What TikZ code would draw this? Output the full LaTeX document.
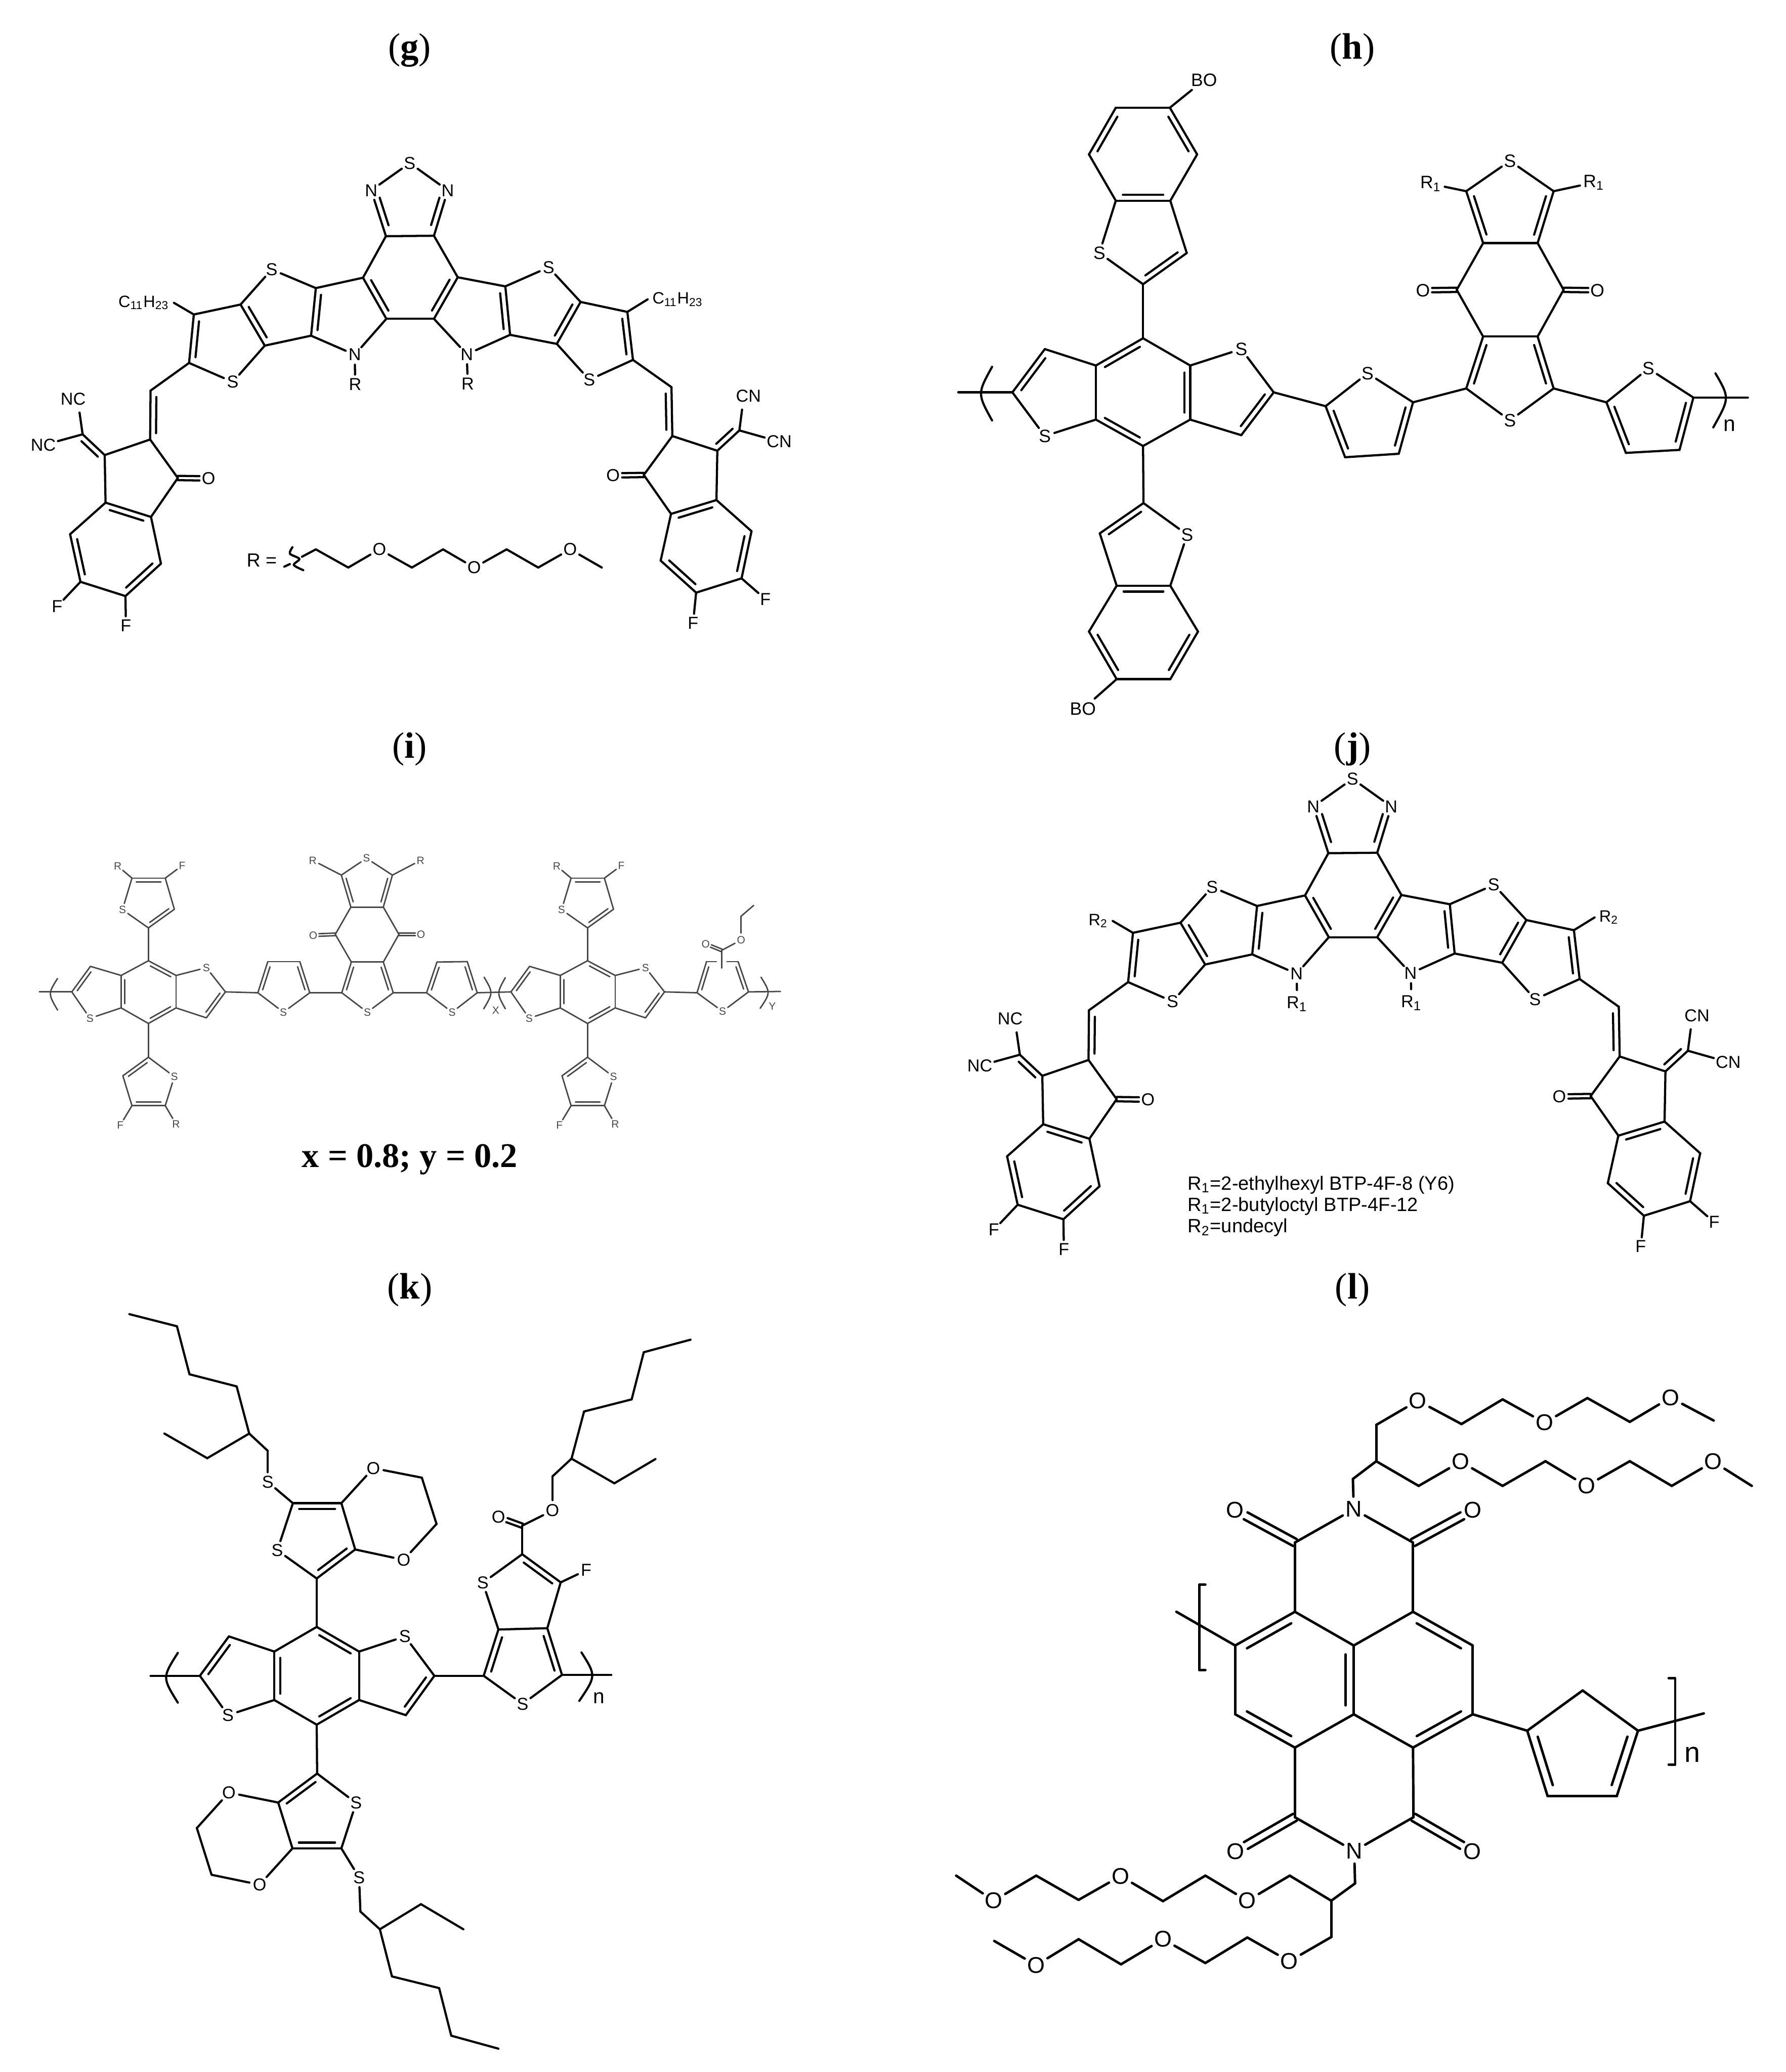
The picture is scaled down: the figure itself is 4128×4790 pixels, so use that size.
\documentclass[tikz,border=0pt]{standalone}
\usepackage{fontspec}
\setmainfont{Liberation Sans}
\newfontfamily\titlefont{Liberation Serif}
\usetikzlibrary{calc}
\tikzset{
  bond/.style={line width=1pt,line cap=round,line join=round},
  atom/.style={circle,inner sep=.3pt,font=\fontsize{8}{9}\selectfont},
  sidegroup/.style={rectangle,inner sep=2pt,font=\fontsize{7.6}{9}\selectfont},
  paneltitle/.style={font=\titlefont\fontsize{17}{20}\selectfont},
  legend/.style={anchor=west,inner sep=0pt,font=\fontsize{8.9}{10}\selectfont}
}
\newcommand{\dgap}{2.7pt}
\newcommand{\cgap}{1pt}
\newcommand{\ogap}{4.2pt}
\newcommand{\dbond}[3][.13]{\draw[bond] (#2)--(#3);
  \draw[bond] ($(#2)!#1!(#3)!\dgap!90:(#3)$)--($(#3)!#1!(#2)!\dgap!-90:(#2)$);}
\newcommand{\cbond}[2]{\draw[bond,shorten >=\ogap] ($(#1)!\cgap!90:(#2)$)--($(#2)!\cgap!-90:(#1)$);
  \draw[bond,shorten >=\ogap] ($(#1)!\cgap!-90:(#2)$)--($(#2)!\cgap!90:(#1)$);}
\newcommand{\verts}[2]{\foreach \n/\x/\y in {#2} \coordinate (#1\n) at (\x,\y);}
\newcommand{\atoms}[2]{\foreach \n/\x/\y/\txt in {#2} \node[atom] (#1\n) at (\x,\y) {\txt};}
\newcommand{\bonds}[2]{\foreach \p/\q in {#2} \draw[bond] (#1\p)--(#1\q);}
\newcommand{\dbonds}[2]{\foreach \p/\q in {#2} \dbond{#1\p}{#1\q};}
\newcommand{\cbonds}[2]{\foreach \p/\q in {#2} \cbond{#1\p}{#1\q};}
\newcommand{\acceptor}[3]{
  \verts{#1}{a/892/546,b/839/642,c/893/737,d/730/666,e/719/776,f/556/704,g/612/799,h/448/727,i/437/839,j/348/903,k/347/1016,l/242/1052,m/191/1004,n/411/1105,o/244/1162,p/349/1195,q/162/1235,r/186/1345,s/290/1378,t/372/1303}
  \verts{#1}{A/1003/545,B/1058/641,C/1003/737,D/1168/662,E/1179/774,F/1342/698,G/1287/795,H/1450/721,I/1463/832,J/1552/895,K/1554/1008,L/1658/1042,M/1709/995,N/1488/1098,O/1656/1156,P/1551/1188,Q/1737/1228,R/1714/1337,S/1609/1370,T/1527/1296}
  \atoms{#1}{z/947/377/S,na/858/440/N,nA/1035/440/N,y/820/820/N,Y/1079/819/N,u/628/623/S,U/1268/618/S,v/538/883/S,V/1362/878/S,nc/169/922/NC,nd/100/1029/NC,ne/1730/915/CN,nf/1801/1021/CN,x/482/1106/O,X/1417/1099/O,fa/132/1402/F,fb/291/1446/F,fA/1769/1385/F,fB/1602/1440/F,w/821/889/#3,W/1081/887/#3}
  \node[sidegroup,anchor=east] (#1al) at (402,700) {#2};
  \node[sidegroup,anchor=west] (#1AL) at (1497,692) {#2};
  \bonds{#1}{z/na,z/nA,a/A,a/b,A/B,c/C,c/y,C/Y,b/d,B/D,e/y,E/Y,y/w,Y/W,d/u,f/u,g/e,D/U,F/U,G/E,f/h,F/H,g/v,i/v,G/V,I/V,i/j,I/J,k/l,K/L,k/n,K/N,l/o,L/O,n/p,N/P,o/q,O/Q,r/s,R/S,t/p,T/P,m/nc.-65,m/nd,M/ne.-115,M/nf,r/fa,s/fb,R/fA,S/fB,h/al.east,H/AL.west}
  \dbond[.2]{#1na}{#1a}
  \dbond[.2]{#1A}{#1nA}
  \dbonds{#1}{b/c,C/B,d/e,E/D,f/g,G/F,h/i,I/H,j/k,K/J,l/m,L/M,p/o,O/P,q/r,R/Q,s/t,T/S}
  \cbonds{#1}{n/x,N/X}
}
\newcommand{\fbdt}[1]{
  \verts{#1}{u1/343/2221,u2/407/2255,u3/407/2330,u4/343/2366,u5/280/2330,u6/280/2255,c1/209/2234,c2/166/2293,d2/521/2293,d3/477/2353,t1/343/2145,t2/403/2102,t3/382/2030,t4/305/2030,b1/343/2444,b2/284/2487,b3/305/2556,b4/382/2556}
  \atoms{#1}{s1/208/2354/S,s2/477/2237/S,s3/283/2103/S,s4/403/2489/S,r1/272/2002/R,f1/421/2001/F,f2/278/2601/F,r2/407/2599/R}
  \bonds{#1}{u1/u6,u5/u4,u3/u2,u6/c1,c2/s1,s1/u5,u2/s2,s2/d2,d3/u3,u1/t1,t1/s3,s3/t4,t2/t3,t4/r1,t3/f1,u4/b1,b1/s4,s4/b4,b2/b3,b3/f2,b4/r2}
  \dbonds{#1}{u2/u1,u6/u5,u4/u3,c1/c2,d3/d2,t1/t2,t3/t4,b1/b2,b3/b4}
}
\begin{document}
\begin{tikzpicture}[x=.2pt,y=-.2pt]
\path[use as bounding box,fill=white] (0,0) rectangle (4128,4790);
\node[paneltitle] (tg) at (947,116) {(\textbf{g})};
\node[paneltitle] (th) at (3126,116) {(\textbf{h})};
\node[paneltitle] (ti) at (947,1732) {(\textbf{i})};
\node[paneltitle] (tj) at (3126,1732) {(\textbf{j})};
\node[paneltitle] (tk) at (947,2982) {(\textbf{k})};
\node[paneltitle] (tl) at (3126,2982) {(\textbf{l})};
\node[paneltitle,font=\titlefont\fontsize{16}{20}\selectfont] (ratio) at (947,2680) {\textbf{x = 0.8; y = 0.2}};

\acceptor{g}{C\textsubscript{11}H\textsubscript{23}}{R}
\verts{g}{c0/698/1287,c1/730/1270,c2/805/1312,c3/952/1312,c4/1024/1270,c5/1171/1270,c6/1244/1312,c7/1391/1312}
\atoms{g}{oa/877/1270/O,ob/1096/1312/O,oc/1318/1270/O}
\node[sidegroup,inner sep=0pt,font=\fontsize{8.8}{10}\selectfont] (gl) at (605,1295) {R =};
\bonds{g}{c0/c1,c1/c2,c2/oa,oa/c3,c3/c4,c4/ob,ob/c5,c5/c6,c6/oc,oc/c7}
\draw[bond] plot[smooth] coordinates {(676,1265) (670,1280) (692,1292) (679,1306) (701,1318)};
\draw[bond] (657,1310)--(670,1304);

\begin{scope}[shift={(2163,1417)},scale=1.017]
\acceptor{j}{R\textsubscript{2}}{R\textsubscript{1}}
\end{scope}
\node[legend] (j1) at (2744,2740) {R\textsubscript{1}=2-ethylhexyl BTP-4F-8 (Y6)};
\node[legend] (j2) at (2744,2789) {R\textsubscript{1}=2-butyloctyl BTP-4F-12};
\node[legend] (j3) at (2744,2838) {R\textsubscript{2}=undecyl};

\begin{scope}[atom/.append style={font=\fontsize{8.3}{9}\selectfont}]
\verts{h}{a1/2704/249,a2/2579/249,a3/2517/357,a4/2579/464,a5/2705/464,a6/2767/357,a7/2743/585,a8/2642/657}
\verts{h}{b1/2642/782,b2/2751/845,b3/2751/970,b4/2642/1031,b5/2533/970,b6/2533/845,c1/2415/807,c2/2340/907,d2/2944/907,d3/2869/1006,t0/2215/907}
\verts{h}{e1/2643/1163,e2/2542/1233,e3/2581/1354,e4/2705/1354,e5/2517/1460,e6/2581/1570,e7/2705/1570,e8/2769/1460}
\verts{h}{f1/3389/442,f2/3591/442,f3/3428/562,f4/3554/562,f5/3367/670,f6/3614/670,f7/3428/778,f8/3554/778,f9/3389/898,f10/3591/898}
\verts{h}{g1/3266/930,g2/3064/939,g3/3109/1057,g4/3233/1049,m1/3713/930,m2/3914/919,m3/3882/1040,m4/3758/1047,t9/4040/919}
\atoms{h}{s1/2541/585/S,s2/2415/1008/S,s3/2869/807/S,s4/2744/1236/S,s5/3490/372/S,s6/3490/972/S,s7/3161/863/S,s8/3810/852/S,bo1/2783/185/BO,bo2/2503/1639/BO,r1/3307/425/R\textsubscript{1},r2/3684/422/R\textsubscript{1},o1/3289/671/O,o2/3692/671/O}
\node[atom,font=\fontsize{10}{11}\selectfont] (hn) at (3998,983) {n};
\bonds{h}{a1/a2,a3/a4,a5/a6,a4/s1,s1/a8,a5/a7,a8/b1,b1/b2,b3/b4,b5/b6,b6/c1,c2/s2,s2/b5,t0/c2,b2/s3,s3/d2,d3/b3,b4/e1,e1/s4,s4/e4,e2/e3,e3/e5,e6/e7,e8/e4,a1/bo1,e6/bo2,d2/g2,g1/s7,s7/g2,g3/g4,g1/f9,f9/s6,s6/f10,f10/m1,m1/s8,s8/m2,m3/m4,m2/t9,f3/f4,f3/f5,f5/f7,f4/f6,f6/f8,f7/f8,s5/f1,s5/f2,f1/r1,f2/r2}
\dbonds{h}{a2/a3,a6/a1,a4/a5,a8/a7,b1/b6,b3/b2,b5/b4,c1/c2,d3/d2,e1/e2,e4/e3,e5/e6,e7/e8,f1/f3,f4/f2,f7/f9,f10/f8,g2/g3,g4/g1,m1/m4,m3/m2}
\cbonds{h}{f5/o1,f6/o2}
\draw[bond] (2293,848) .. controls (2259,910) .. (2293,972);
\draw[bond] (3965,863) .. controls (3998,920) .. (3960,988);
\end{scope}

\begin{scope}[bond/.append style={line width=.65pt,black!72},atom/.append style={font=\fontsize{4.9}{5}\selectfont,text=black!72}]
\renewcommand{\dgap}{1.7pt}
\renewcommand{\cgap}{.6pt}
\renewcommand{\ogap}{2.6pt}
\fbdt{ia}
\begin{scope}[shift={(1015,0)}]
\fbdt{ib}
\end{scope}
\verts{i}{t0/91/2293,v1/596/2295,v2/619/2223,v3/693/2223,v4/716/2295,w1/790/2295,w2/812/2224,w3/886/2224,w4/909/2295,w5/775/2160,w6/922/2160,w7/811/2097,w8/886/2097,w9/789/2023,w10/907/2023}
\verts{i}{x1/986/2295,x2/1010/2224,x3/1080/2223,x4/1103/2295,z1/1611/2295,z2/1633/2223,z3/1706/2223,z4/1730/2293,t9/1804/2292,za/1656/2223,zb/1680/2223,e1/1668/2197,e2/1668/2238,e3/1713/2118,e4/1742/2093}
\atoms{i}{sv/655/2340/S,sw/849/2340/S,so/847/1984/S,r1/723/1989/R,r2/972/1989/R,oa/724/2162/O,ob/973/2160/O,sx/1045/2340/S,sz/1670/2338/S,oc/1631/2182/O,od/1713/2173/O,lx/1146/2336/X,ly/1785/2326/Y}
\bonds{i}{v2/v3,v1/sv,sv/v4,v4/w1,w2/w3,w1/sw,sw/w4,w4/x1,w2/w5,w3/w6,w5/w7,w6/w8,w7/w8,so/w9,so/w10,w9/r1,w10/r2,x2/x3,x1/sx,sx/x4,z2/za,zb/z3,z1/sz,sz/z4,z4/t9,e1/e2,e1/od,od/e3,e3/e4}
\draw[bond] (it0)--(iac2);
\draw[bond] (iad2)--(iv1);
\draw[bond] (ix4)--(ibc2);
\draw[bond] (ibd2)--(iz1);
\dbonds{i}{v2/v1,v4/v3,w2/w1,w4/w3,w9/w7,w8/w10,x2/x1,x4/x3,z2/z1,z4/z3}
\cbonds{i}{w5/oa,w6/ob,e1/oc}
\draw[bond] (133,2262) .. controls (111,2297) .. (133,2335);
\draw[bond] (1119,2259) .. controls (1140,2295) .. (1118,2332);
\draw[bond] (1168,2260) .. controls (1148,2296) .. (1168,2332);
\draw[bond] (1759,2259) .. controls (1781,2295) .. (1757,2331);
\end{scope}

\begin{scope}[atom/.append style={font=\fontsize{8}{9}\selectfont}]
\verts{k}{c1/299/3038,c2/409/3066,c3/438/3177,c4/547/3205,c5/576/3314,c6/479/3371,c7/380/3314,c8/619/3354,t1/677/3475,t2/789/3475,t3/821/3582,t4/732/3649,d1/975/3416,d2/1009/3523}
\verts{k}{u1/732/3761,u2/830/3818,u3/830/3930,u4/732/3987,u5/634/3930,u6/634/3818,l0/348/3874,l1/529/3783,l2/462/3874,r2/1004/3874,r3/938/3965}
\verts{k}{p0/1413/3872,p1/1118/3874,p2/1152/3767,p3/1265/3764,p4/1299/3872,q1/1207/3593,q2/1296/3658,e1/1207/3527,e2/1277/3413,e3/1321/3372,e4/1420/3429,e5/1515/3373,e6/1350/3263,e7/1460/3235,e8/1488/3126,e9/1596/3097}
\verts{k}{b1/733/4100,b2/643/4167,b3/676/4273,b4/789/4273,g1/455/4226,g2/489/4334,h1/833/4419,h2/878/4460,h3/973/4402,h4/1071/4460,h5/906/4569,h6/1015/4596,h7/1043/4706,h8/1152/4736}
\atoms{k}{sa/619/3426/S,st/641/3584/S,o1/863/3394/O,o2/933/3606/O,sl/527/3965/S,sr/936/3783/S,sp/1208/3939/S,sq/1116/3659/S,f/1355/3630/F,oe/1152/3507/O,os/1277/3492/O,sb/823/4168/S,ob/529/4144/O,oc/600/4357/O,sc/830/4340/S}
\node[atom,font=\fontsize{9.5}{11}\selectfont] (kn) at (1384,3925) {n};
\bonds{k}{c1/c2,c2/c3,c3/c4,c4/c5,c5/c6,c6/c7,c5/c8,c8/sa,sa/t1,t1/st,st/t4,t2/t3,t2/o1,o1/d1,d1/d2,d2/o2,o2/t3,t4/u1,u1/u6,u2/u3,u4/u5,u6/l1,l2/sl,sl/u5,l0/l2,u2/sr,sr/r2,r3/u3,r2/p1,p1/sp,sp/p4,p2/p3,p2/sq,sq/q1,q2/p3,q2/f,q1/e1,e1/os,os/e2,e2/e3,e3/e4,e4/e5,e3/e6,e6/e7,e7/e8,e8/e9,p4/p0,u4/b1,b1/sb,sb/b4,b2/b3,b2/ob,ob/g1,g1/g2,g2/oc,oc/b3,b4/sc,sc/h1,h1/h2,h2/h3,h3/h4,h2/h5,h5/h6,h6/h7,h7/h8}
\dbonds{k}{t2/t1,t4/t3,u2/u1,u6/u5,u4/u3,l1/l2,r3/r2,p2/p1,p4/p3,q2/q1,b1/b2,b3/b4}
\cbonds{k}{e1/oe}
\draw[bond] (411,3821) .. controls (375,3878) .. (411,3936);
\draw[bond] (1344,3820) .. controls (1378,3874) .. (1339,3932);
\end{scope}

\begin{scope}[bond/.append style={line width=1.15pt},atom/.append style={font=\fontsize{10.5}{12}\selectfont}]
\renewcommand{\dgap}{3.8pt}
\renewcommand{\cgap}{1.8pt}
\renewcommand{\ogap}{5.5pt}
\verts{l}{a1/3127/3419,a2/3181/3378,a3/3181/3294,a4/3378/3292,a5/3473/3235,a6/3669/3232,a7/3767/3287,a8/3961/3284,b1/3279/3435,b2/3473/3435,b3/3572/3378,b4/3767/3378,b5/3864/3435,b6/4049/3435}
\verts{l}{c1/2993/3566,c2/3266/3566,d1/2993/3726,d2/3266/3726,d3/2855/3804,d4/3129/3804,d5/3404/3804,d6/2855/3963,d7/3129/3963,d8/3404/3963,d9/2993/4040,d10/3266/4040,t1/2719/3726}
\verts{l}{e1/3530/4001,e2/3658/3908,e3/3786/4001,e4/3737/4152,e5/3577/4152,t2/3938/3961,c3/2993/4201,c4/3267/4201}
\verts{l}{f1/3132/4354,f2/3077/4394,f3/3077/4478,f4/2883/4479,f5/2786/4538,f6/2591/4541,f7/2493/4483,f8/2298/4487,g1/2981/4336,g2/2786/4336,g3/2688/4395,g4/2493/4392,g5/2395/4336,g6/2210/4336}
\atoms{l}{n1/3129/3489/N,oa/3277/3238/O,ob/3570/3289/O,oc/3861/3231/O,od/3376/3379/O,oe/3667/3435/O,of/3960/3379/O,og/2855/3491/O,oh/3404/3491/O,oi/2856/4280/O,oj/3403/4280/O,n2/3130/4279/N,ok/2980/4534/O,ol/2688/4483/O,om/2395/4543/O,on/2883/4394/O,oo/2590/4337/O,op/2297/4394/O}
\node[atom,font=\fontsize{13}{14}\selectfont] (ln) at (3912,4056) {n};
\bonds{l}{n1/a1,a1/a2,a2/a3,a3/oa,oa/a4,a4/a5,a5/ob,ob/a6,a6/a7,a7/oc,oc/a8,a2/b1,b1/od,od/b2,b2/b3,b3/oe,oe/b4,b4/b5,b5/of,of/b6,n1/c1,n1/c2,c1/d1,c2/d2,d1/d4,d2/d4,d3/d6,d3/t1,d5/d8,d7/d9,d7/d10,d9/c3,d10/c4,c3/n2,c4/n2,n2/f1,f1/f2,f2/f3,f3/ok,ok/f4,f4/f5,f5/ol,ol/f6,f6/f7,f7/om,om/f8,f2/g1,g1/on,on/g2,g2/g3,g3/oo,oo/g4,g4/g5,g5/op,op/g6,d8/e1,e1/e2,e2/e3,e4/e5,e3/t2}
\dbonds{l}{d1/d3,d6/d9,d7/d4,d5/d2,d10/d8,e1/e5,e4/e3}
\cbonds{l}{c1/og,c2/oh,c3/oi,c4/oj}
\draw[bond] (2786,3663)--(2772,3663)--(2772,3861)--(2786,3861);
\draw[bond] (3857,3880)--(3872,3880)--(3872,4079)--(3857,4079);
\end{scope}
\end{tikzpicture}
\end{document}
